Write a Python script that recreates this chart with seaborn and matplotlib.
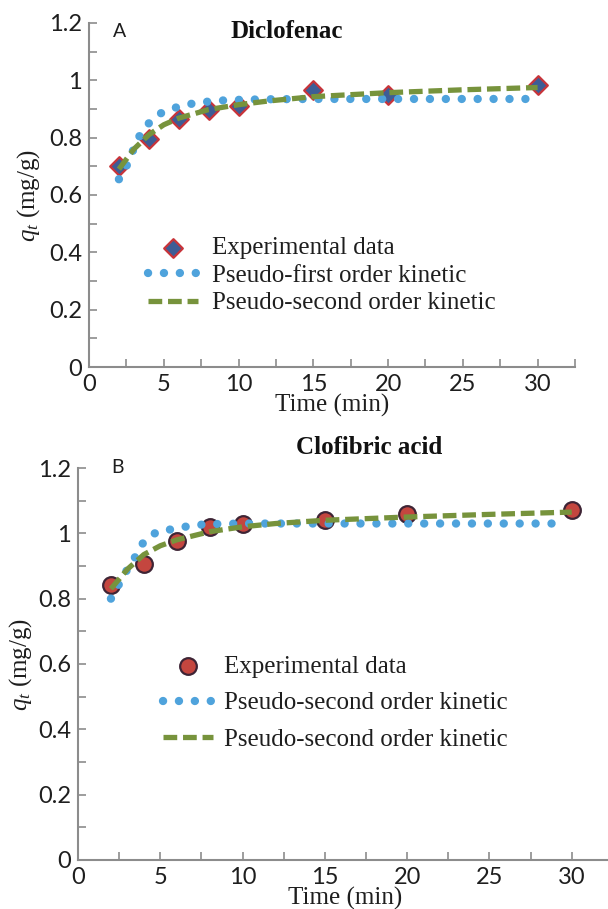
import matplotlib
matplotlib.use("Agg")
import matplotlib.pyplot as plt
import seaborn as sns
import pandas as pd
from matplotlib.ticker import FixedLocator

# ---------------- data ----------------
# Panel A: Diclofenac
a_exp_t = [2, 4, 6, 8, 10, 15, 20, 30]
a_exp_q = [0.70, 0.795, 0.865, 0.895, 0.910, 0.965, 0.950, 0.985]
a_pfo_t = [2, 2.5, 3.3, 4, 4.8, 5.8, 7, 8, 9, 10, 12, 15, 20, 25, 29.5]
a_pfo_q = [0.655, 0.70, 0.80, 0.85, 0.885, 0.905, 0.920, 0.926, 0.930, 0.932, 0.934, 0.935, 0.935, 0.935, 0.935]
a_pso_t = [2, 3, 4, 5, 6, 8, 10, 12, 15, 20, 25, 30]
a_pso_q = [0.69, 0.76, 0.81, 0.845, 0.868, 0.898, 0.915, 0.928, 0.943, 0.957, 0.967, 0.975]

# Panel B: Clofibric acid
b_exp_t = [2, 4, 6, 8, 10, 15, 20, 30]
b_exp_q = [0.843, 0.905, 0.978, 1.020, 1.030, 1.040, 1.060, 1.070]
b_pfo_t = [2, 2.5, 3, 3.5, 4, 4.8, 6, 7, 8, 10, 12, 15, 20, 25, 29.5]
b_pfo_q = [0.80, 0.845, 0.89, 0.93, 0.975, 1.005, 1.015, 1.025, 1.028, 1.030, 1.030, 1.030, 1.030, 1.030, 1.030]
b_pso_t = [2, 3, 4, 5, 6, 8, 10, 12, 15, 20, 25, 30]
b_pso_q = [0.83, 0.89, 0.935, 0.962, 0.980, 1.005, 1.020, 1.030, 1.040, 1.050, 1.058, 1.065]

labels_a = ["Experimental data", "Pseudo-first order kinetic", "Pseudo-second order kinetic"]
labels_b = ["Experimental data", "Pseudo-second order kinetic", "Pseudo-second order kinetic"]
x_ticks = [0, 5, 10, 15, 20, 25, 30]
y_ticks = [0, 0.2, 0.4, 0.6, 0.8, 1.0, 1.2]
y_ticklabels = ["0", "0.2", "0.4", "0.6", "0.8", "1", "1.2"]

# ---------------- style ----------------
sns.set_style("ticks")
plt.rcParams["font.family"] = ["Lato", "DejaVu Sans"]
plt.rcParams["mathtext.fontset"] = "custom"
plt.rcParams["mathtext.rm"] = "Liberation Serif"
plt.rcParams["mathtext.it"] = "Liberation Serif:italic"

BLUE = "#4FA3DC"
GREEN = "#77933C"
GRAY = "#8C8C8C"
TXT = "#1E1E1E"
SERIF = ["Liberation Serif", "DejaVu Serif"]

fig = plt.figure(figsize=(6.08, 9.09), dpi=100)
axA = fig.add_axes([89 / 608, 1 - 367 / 909, (575 - 89) / 608, 344 / 909])
axB = fig.add_axes([78 / 608, 1 - 860 / 909, (612.9 - 78) / 608, 392 / 909])


def panel(ax, exp_t, exp_q, pfo_t, pfo_q, pso_t, pso_q, labels, marker, mface, medge, msize):
    df_pfo = pd.DataFrame({"t": pfo_t, "q": pfo_q})
    df_pso = pd.DataFrame({"t": pso_t, "q": pso_q})
    df_exp = pd.DataFrame({"t": exp_t, "q": exp_q})
    sns.scatterplot(data=df_exp, x="t", y="q", ax=ax, marker=marker, s=msize ** 2,
                    color=mface, edgecolor=medge, linewidth=1.6, zorder=2, label=labels[0])
    sns.lineplot(data=df_pfo, x="t", y="q", ax=ax, color=BLUE, lw=6.0,
                 zorder=3, label=labels[1], sort=False)
    sns.lineplot(data=df_pso, x="t", y="q", ax=ax, color=GREEN, lw=3.8,
                 zorder=4, label=labels[2], sort=False)
    lines = ax.get_lines()
    lines[0].set_linestyle((0, (0.01, 1.9)))
    lines[0].set_dash_capstyle("round")
    lines[1].set_linestyle((0, (2.6, 1.1)))
    lines[1].set_dash_capstyle("butt")

    ax.set_xlim(0, 32.5)
    ax.set_ylim(0, 1.2)
    ax.xaxis.set_major_locator(FixedLocator(x_ticks))
    ax.xaxis.set_minor_locator(FixedLocator([2.5, 7.5, 12.5, 17.5, 22.5, 27.5, 32.5]))
    ax.yaxis.set_major_locator(FixedLocator(y_ticks))
    ax.set_yticklabels(y_ticklabels)
    ax.yaxis.set_minor_locator(FixedLocator([0.1, 0.3, 0.5, 0.7, 0.9, 1.1]))
    ax.tick_params(which="both", direction="in", length=6, width=1.2, color=GRAY,
                   labelsize=17, labelcolor=TXT, pad=5)
    for side in ["top", "right"]:
        ax.spines[side].set_visible(False)
    for side in ["left", "bottom"]:
        ax.spines[side].set_color(GRAY)
        ax.spines[side].set_linewidth(1.5)
    ax.set_xlabel("Time (min)", fontsize=18, family=SERIF, color=TXT)
    ax.set_ylabel(r"$q_t$ (mg/g)", fontsize=18, family=SERIF, color=TXT)


panel(axA, a_exp_t, a_exp_q, a_pfo_t, a_pfo_q, a_pso_t, a_pso_q, labels_a,
      "D", "#3D5D96", "#C8343A", 9.5)
panel(axB, b_exp_t, b_exp_q, b_pfo_t, b_pfo_q, b_pso_t, b_pso_q, labels_b,
      "o", "#C4463F", "#3E2435", 12)

# label positions
axA.xaxis.set_label_coords(0.5, -0.078)
axA.yaxis.set_label_coords(-0.097, 0.5)
axB.xaxis.set_label_coords(0.5, -0.068)
axB.yaxis.set_label_coords(-0.082, 0.5)

# titles and panel letters
axA.text(13.2, 1.17, "Diclofenac", family=SERIF, fontweight="bold", fontsize=18,
         ha="center", va="center", color="#111111")
axA.text(2.07, 1.172, "A", fontsize=14, ha="center", va="center", color=TXT)
axB.text(17.7, 1.264, "Clofibric acid", family=SERIF, fontweight="bold", fontsize=18,
         ha="center", va="center", color="#111111", clip_on=False)
axB.text(2.37, 1.203, "B", fontsize=14, ha="center", va="center", color=TXT)

# legends
legA = axA.legend(loc="upper left", bbox_to_anchor=(0.121, 0.378), frameon=False,
                  borderpad=0, borderaxespad=0, labelspacing=0.2, handlelength=2.0,
                  handletextpad=0.55, prop={"family": SERIF, "size": 18})
legB = axB.legend(loc="upper left", bbox_to_anchor=(0.159, 0.522), frameon=False,
                  borderpad=0, borderaxespad=0, labelspacing=0.56, handlelength=2.0,
                  handletextpad=0.45, prop={"family": SERIF, "size": 18})
for leg in (legA, legB):
    for t in leg.get_texts():
        t.set_color(TXT)

fig.savefig("out.png", dpi=100)
